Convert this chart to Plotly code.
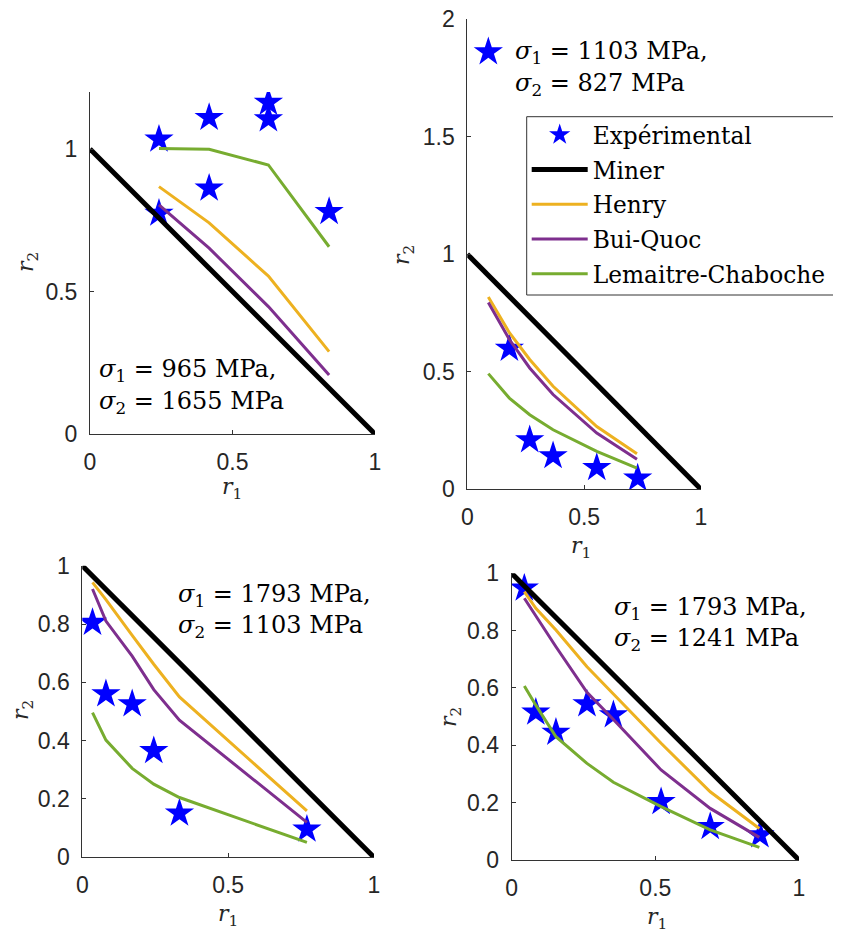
import plotly.graph_objects as go

# ---------------- data ----------------
# Panel A : sigma1 = 965 MPa, sigma2 = 1655 MPa
a_r1 = [0.242, 0.418, 0.626, 0.839]
a_exp_r1 = [0.242, 0.242, 0.418, 0.418, 0.626, 0.626, 0.839]
a_exp_r2 = [1.034, 0.774, 1.110, 0.862, 1.163, 1.105, 0.780]
a_henry = [0.868, 0.741, 0.554, 0.289]
a_bui = [0.804, 0.652, 0.447, 0.207]
a_lc = [1.002, 0.999, 0.944, 0.657]

# Panel B : sigma1 = 1103 MPa, sigma2 = 827 MPa
b_r1 = [0.090, 0.180, 0.267, 0.367, 0.554, 0.726]
b_exp_r1 = [0.180, 0.267, 0.367, 0.554, 0.729]
b_exp_r2 = [0.599, 0.210, 0.142, 0.092, 0.047]
b_henry = [0.818, 0.666, 0.552, 0.438, 0.267, 0.151]
b_bui = [0.794, 0.637, 0.516, 0.403, 0.239, 0.128]
b_lc = [0.492, 0.388, 0.317, 0.253, 0.161, 0.090]
b_key_r1 = [0.09]
b_key_r2 = [1.86]

# Panel C : sigma1 = 1793 MPa, sigma2 = 1103 MPa
c_r1 = [0.035, 0.081, 0.171, 0.245, 0.333, 0.770]
c_exp_r2 = [0.805, 0.560, 0.526, 0.365, 0.151, 0.096]
c_henry = [0.943, 0.884, 0.761, 0.662, 0.550, 0.159]
c_bui = [0.920, 0.810, 0.690, 0.575, 0.470, 0.120]
c_lc = [0.496, 0.402, 0.305, 0.251, 0.205, 0.051]

# Panel D : sigma1 = 1793 MPa, sigma2 = 1241 MPa
d_r1 = [0.044, 0.084, 0.154, 0.262, 0.354, 0.520, 0.691, 0.862]
d_exp_r1 = [0.044, 0.084, 0.154, 0.262, 0.354, 0.520, 0.691, 0.864]
d_exp_r2 = [0.948, 0.515, 0.445, 0.544, 0.506, 0.203, 0.116, 0.087]
d_henry = [0.936, 0.878, 0.802, 0.674, 0.579, 0.407, 0.238, 0.110]
d_bui = [0.913, 0.850, 0.744, 0.585, 0.490, 0.314, 0.180, 0.079]
d_lc = [0.607, 0.540, 0.430, 0.337, 0.271, 0.186, 0.105, 0.044]

miner_r1 = [0, 1]
miner_r2 = [1, 0]

x_ticks = [0, 0.5, 1]
x_ticktext = ["0", "0.5", "1"]
ya_ticks = [0, 0.5, 1]
ya_ticktext = ["0", "0.5", "1"]
yb_ticks = [0, 0.5, 1, 1.5, 2]
yb_ticktext = ["0", "0.5", "1", "1.5", "2"]
yc_ticks = [0, 0.2, 0.4, 0.6, 0.8, 1]
yc_ticktext = ["0", "0.2", "0.4", "0.6", "0.8", "1"]

names = ["Expérimental", "Miner", "Henry", "Bui-Quoc", "Lemaitre-Chaboche"]
labels = [
    ("<i>σ</i><sub>1</sub> = 965 MPa,", "<i>σ</i><sub>2</sub> = 1655 MPa"),
    ("<i>σ</i><sub>1</sub> = 1103 MPa,", "<i>σ</i><sub>2</sub> = 827 MPa"),
    ("<i>σ</i><sub>1</sub> = 1793 MPa,", "<i>σ</i><sub>2</sub> = 1103 MPa"),
    ("<i>σ</i><sub>1</sub> = 1793 MPa,", "<i>σ</i><sub>2</sub> = 1241 MPa"),
]

# ---------------- style ----------------
W, H = 841, 931
OFF = 8  # page body margin in the browser
BLUE = "#0000FF"
ORANGE = "#EDB120"
PURPLE = "#7E2F8E"
GREEN = "#77AC30"
AXC = "#333333"
TXC = "#262626"
SERIF = "DejaVu Serif"
SANS = "Liberation Sans"


def fx(px):
    return (px - OFF) / W


def fy(py):
    return 1 - (py - OFF) / H


# pixel boxes of each axes (as seen on screen): left, right, top, bottom
boxes = [
    (90, 375, 92, 434),
    (467.3, 701, 19, 489.3),
    (82.3, 374, 565.7, 857.3),
    (511.7, 799, 573.3, 860),
]
yranges = [[0, 1.2], [0, 2], [0, 1], [0, 1]]
yticks = [(ya_ticks, ya_ticktext), (yb_ticks, yb_ticktext),
          (yc_ticks, yc_ticktext), (yc_ticks, yc_ticktext)]

panels = [
    (a_exp_r1, a_exp_r2, a_r1, a_henry, a_bui, a_lc),
    (b_exp_r1, b_exp_r2, b_r1, b_henry, b_bui, b_lc),
    (c_r1, c_exp_r2, c_r1, c_henry, c_bui, c_lc),
    (d_exp_r1, d_exp_r2, d_r1, d_henry, d_bui, d_lc),
]

fig = go.Figure()
for i, (ex, ey, lx, h, b, lc) in enumerate(panels):
    xa = "x" if i == 0 else f"x{i+1}"
    ya = "y" if i == 0 else f"y{i+1}"
    show = i == 0
    fig.add_trace(go.Scatter(x=ex, y=ey, mode="markers", name=names[0],
                             marker=dict(symbol="star", size=22, color=BLUE, line=dict(width=0)),
                             xaxis=xa, yaxis=ya, showlegend=show, legendgroup="e"))
    fig.add_trace(go.Scatter(x=miner_r1, y=miner_r2, mode="lines", name=names[1],
                             line=dict(color="black", width=5),
                             xaxis=xa, yaxis=ya, showlegend=show, legendgroup="m"))
    fig.add_trace(go.Scatter(x=lx, y=h, mode="lines", name=names[2],
                             line=dict(color=ORANGE, width=3),
                             xaxis=xa, yaxis=ya, showlegend=show, legendgroup="h"))
    fig.add_trace(go.Scatter(x=lx, y=b, mode="lines", name=names[3],
                             line=dict(color=PURPLE, width=3),
                             xaxis=xa, yaxis=ya, showlegend=show, legendgroup="b"))
    fig.add_trace(go.Scatter(x=lx, y=lc, mode="lines", name=names[4],
                             line=dict(color=GREEN, width=3),
                             xaxis=xa, yaxis=ya, showlegend=show, legendgroup="l"))

# key star of panel B
fig.add_trace(go.Scatter(x=b_key_r1, y=b_key_r2, mode="markers", showlegend=False,
                         marker=dict(symbol="star", size=22, color=BLUE, line=dict(width=0)),
                         xaxis="x2", yaxis="y2"))

layout = dict(width=W, height=H, margin=dict(l=0, r=0, t=0, b=0, autoexpand=False),
              paper_bgcolor="white", plot_bgcolor="white", showlegend=True)

annotations = []
for i, (l, r, t, btm) in enumerate(boxes):
    sfx = "" if i == 0 else str(i + 1)
    axis_common = dict(showline=True, linecolor=AXC, linewidth=1, ticks="inside",
                       ticklen=4, tickcolor=AXC, tickwidth=1, showgrid=False,
                       zeroline=False, mirror=False, ticklabeloverflow="allow",
                       tickfont=dict(family=SANS, size=23, color=TXC))
    layout["xaxis" + sfx] = dict(axis_common, domain=[fx(l), fx(r)], range=[0, 1],
                                  tickvals=x_ticks, ticktext=x_ticktext,
                                  anchor="y" + sfx, ticklabelstandoff=7)
    layout["yaxis" + sfx] = dict(axis_common, domain=[fy(btm), fy(t)],
                                  range=yranges[i], tickvals=yticks[i][0],
                                  ticktext=yticks[i][1], anchor="x" + sfx,
                                  ticklabelstandoff=7)

# axis titles (screen pixel positions)
xtitle_pos = [(232, 488), (581, 547), (228, 915), (657, 918)]
ytitle_pos = [(27, 262), (403, 255), (22, 710), (450, 717)]
for (px, py) in xtitle_pos:
    annotations.append(dict(text="<i>r</i><sub>1</sub>", x=fx(px), y=fy(py),
                            xref="paper", yref="paper", showarrow=False,
                            xanchor="center", yanchor="middle",
                            font=dict(family=SERIF, size=22, color=TXC)))
for (px, py) in ytitle_pos:
    annotations.append(dict(text="<i>r</i><sub>2</sub>", x=fx(px), y=fy(py),
                            xref="paper", yref="paper", showarrow=False, textangle=-90,
                            xanchor="center", yanchor="middle",
                            font=dict(family=SERIF, size=22, color=TXC)))

# sigma labels
sig_pos = [(97, 370, 403), (513, 53, 85), (176, 595, 626), (612, 608, 639)]
for (px, py1, py2), (t1, t2) in zip(sig_pos, labels):
    for py, t in ((py1, t1), (py2, t2)):
        annotations.append(dict(text=t, x=fx(px), y=fy(py), xref="paper", yref="paper",
                                xanchor="left", yanchor="middle", showarrow=False,
                                font=dict(family=SERIF, size=24, color="black")))

layout["annotations"] = annotations

# legend frame (runs past the right edge of the page, as in the original)
layout["shapes"] = [dict(type="rect", xref="paper", yref="paper",
                         x0=fx(526.7), x1=fx(880), y0=fy(295), y1=fy(116.7),
                         line=dict(color=AXC, width=1), fillcolor="white", layer="above")]
layout["legend"] = dict(x=fx(526.7), y=fy(113), xanchor="left", yanchor="top",
                        bgcolor="rgba(0,0,0,0)", borderwidth=0,
                        font=dict(family=SERIF, size=23.3, color="black"),
                        itemwidth=56, tracegroupgap=1.5, traceorder="grouped")

fig.update_layout(**layout)
fig.write_html("out.html")
